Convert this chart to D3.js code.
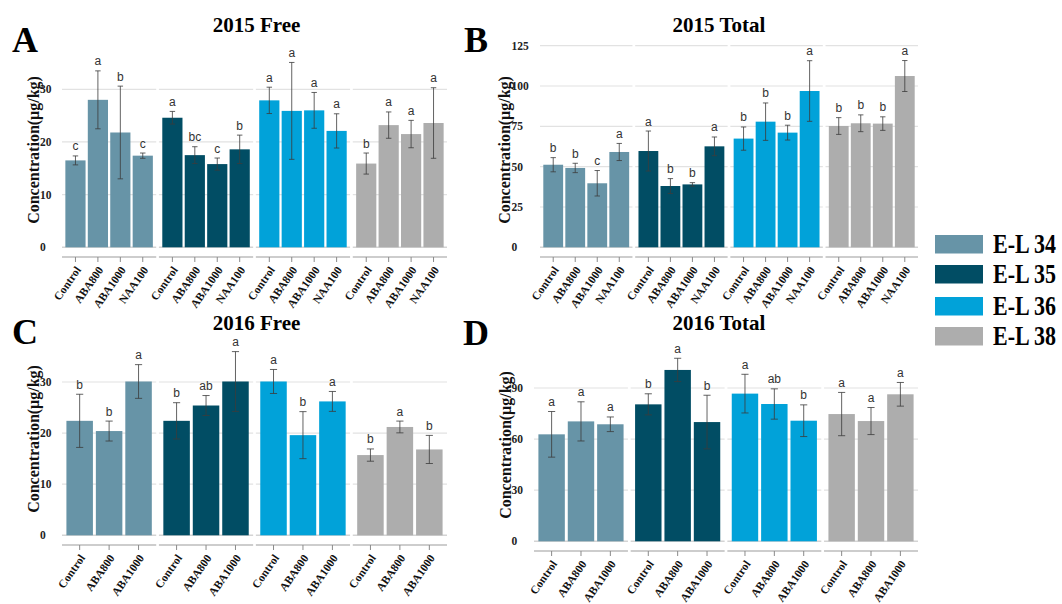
<!DOCTYPE html>
<html>
<head>
<meta charset="utf-8">
<script src="https://cdn.jsdelivr.net/npm/d3@7"></script>
<style>
  html, body { margin: 0; padding: 0; background: #ffffff; }
  svg { display: block; }
</style>
</head>
<body>
<svg id="chart" width="1062" height="604"></svg>
<script>
// Developmental stages (facets) and their fill colours
const stages = ["E-L 34", "E-L 35", "E-L 36", "E-L 38"];
const stageColors = ["#6794a7", "#014d64", "#01a2d9", "#adadad"];

// Treatments per season
const treatments2015 = ["Control", "ABA800", "ABA1000", "NAA100"];
const treatments2016 = ["Control", "ABA800", "ABA1000"];

// 2015 free concentration (µg/kg): mean, error, significance letter; rows = stages
const free2015Mean = [[16.5, 28.0, 21.8, 17.4], [24.6, 17.5, 15.8, 18.6], [27.9, 25.9, 26.0, 22.1], [15.9, 23.2, 21.5, 23.6]];
const free2015Err  = [[0.85, 5.5, 8.8, 0.5], [1.2, 1.6, 1.15, 2.7], [2.5, 9.2, 3.4, 3.25], [2.0, 2.5, 2.6, 6.7]];
const free2015Sig  = [["c", "a", "b", "c"], ["a", "bc", "c", "b"], ["a", "a", "a", "a"], ["b", "a", "a", "a"]];

// 2015 total concentration (µg/kg)
const total2015Mean = [[51.2, 49.2, 39.7, 59.1], [59.7, 38.0, 39.0, 62.6], [67.4, 77.9, 71.1, 96.9], [75.2, 76.9, 76.7, 106.2]];
const total2015Err  = [[4.4, 2.9, 7.9, 5.3], [12.4, 4.6, 1.1, 5.8], [7.2, 11.6, 4.6, 18.8], [5.2, 5.2, 4.2, 9.6]];
const total2015Sig  = [["b", "b", "c", "a"], ["a", "b", "b", "a"], ["b", "b", "b", "a"], ["b", "b", "b", "a"]];

// 2016 free concentration (µg/kg)
const free2016Mean = [[22.4, 20.4, 30.1], [22.4, 25.4, 30.1], [30.1, 19.6, 26.2], [15.7, 21.2, 16.8]];
const free2016Err  = [[5.2, 1.95, 3.3], [3.55, 1.95, 5.85], [2.35, 4.6, 1.95], [1.2, 1.15, 2.75]];
const free2016Sig  = [["b", "b", "a"], ["b", "ab", "a"], ["a", "b", "a"], ["b", "a", "b"]];

// 2016 total concentration (µg/kg)
const total2016Mean = [[62.8, 70.4, 68.7], [80.4, 100.6, 70.0], [86.7, 80.6, 70.8], [74.7, 70.6, 86.3]];
const total2016Err  = [[13.4, 11.5, 4.3], [6.2, 6.85, 15.75], [11.35, 8.9, 9.3], [12.7, 7.95, 6.95]];
const total2016Sig  = [["a", "a", "a"], ["b", "a", "b"], ["a", "ab", "b"], ["a", "a", "a"]];

// Axis tick values
const ticksFree2015 = [0, 10, 20, 30];
const ticksTotal2015 = [0, 25, 50, 75, 100, 125];
const ticksFree2016 = [0, 10, 20, 30];
const ticksTotal2016 = [0, 30, 60, 90];

const serif = "'Liberation Serif', 'Times New Roman', serif";
const sans = "'Liberation Sans', Arial, sans-serif";

const svg = d3.select("#chart");

const panels = [
  { tag: "A", title: "2015 Free", treatments: treatments2015, mean: free2015Mean, err: free2015Err, sig: free2015Sig,
    ticks: ticksFree2015, x0: 62, x1: 447, yTop: 30, yPix: [247.3, 89.3], axisY: 257,
    tagX: 12, tagY: 52, titleX: 256.5, titleY: 31.5, tickLabelX: 40, yLabelX: 39, yLabelY: 150 },
  { tag: "B", title: "2015 Total", treatments: treatments2015, mean: total2015Mean, err: total2015Err, sig: total2015Sig,
    ticks: ticksTotal2015, x0: 540, x1: 918, yTop: 125, yPix: [247.3, 45.7], axisY: 257,
    tagX: 464, tagY: 52, titleX: 719, titleY: 31.5, tickLabelX: 511.5, yLabelX: 510, yLabelY: 150 },
  { tag: "C", title: "2016 Free", treatments: treatments2016, mean: free2016Mean, err: free2016Err, sig: free2016Sig,
    ticks: ticksFree2016, x0: 62, x1: 447, yTop: 30, yPix: [535.3, 382], axisY: 545,
    tagX: 12, tagY: 344, titleX: 256.5, titleY: 330, tickLabelX: 40, yLabelX: 39, yLabelY: 439 },
  { tag: "D", title: "2016 Total", treatments: treatments2016, mean: total2016Mean, err: total2016Err, sig: total2016Sig,
    ticks: ticksTotal2016, x0: 534, x1: 918, yTop: 90, yPix: [541.3, 388], axisY: 551,
    tagX: 463, tagY: 345, titleX: 719, titleY: 330, tickLabelX: 511.5, yLabelX: 511, yLabelY: 445 }
];

const facetGap = 2.7;

panels.forEach(p => {
  const g = svg.append("g");
  const y = d3.scaleLinear().domain([0, p.yTop]).range(p.yPix);
  const span = p.x1 - p.x0;
  const facet = d3.scaleBand().domain(stages).range([p.x0, p.x1])
    .paddingInner(4 * facetGap / (span + facetGap)).paddingOuter(0);
  const inner = d3.scaleBand().domain(p.treatments).range([0, facet.bandwidth()])
    .paddingInner(0.1).paddingOuter(0.15);

  // Panel tag and title
  g.append("text").attr("x", p.tagX).attr("y", p.tagY)
    .attr("font-family", serif).attr("font-weight", "bold").attr("font-size", 36)
    .attr("fill", "#000").text(p.tag);
  g.append("text").attr("x", p.titleX).attr("y", p.titleY).attr("text-anchor", "middle")
    .attr("font-family", serif).attr("font-weight", "bold").attr("font-size", 21)
    .attr("fill", "#000").text(p.title);

  // Y tick labels
  g.selectAll(".ytick").data(p.ticks).join("text")
    .attr("x", p.tickLabelX).attr("y", d => y(d)).attr("dy", "0.35em")
    .attr("font-family", serif).attr("font-weight", "bold").attr("font-size", 11.5)
    .attr("fill", "#222").text(d => d);

  // Y axis title
  g.append("text")
    .attr("transform", `translate(${p.yLabelX},${p.yLabelY}) rotate(-90)`)
    .attr("text-anchor", "middle")
    .attr("font-family", serif).attr("font-weight", "bold").attr("font-size", 16)
    .attr("fill", "#111").text("Concentration(μg/kg)");

  stages.forEach((stage, si) => {
    const fx = facet(stage);
    const fw = facet.bandwidth();
    const fg = g.append("g");

    // Horizontal grid lines
    fg.selectAll(".grid").data(p.ticks.filter(t => t > 0)).join("line")
      .attr("x1", fx).attr("x2", fx + fw)
      .attr("y1", d => y(d)).attr("y2", d => y(d))
      .attr("stroke", "#e2e2e2").attr("stroke-width", 1.2);
    fg.append("line").attr("x1", fx).attr("x2", fx + fw)
      .attr("y1", y(0)).attr("y2", y(0))
      .attr("stroke", "#d4d4d4").attr("stroke-width", 1.4);

    const rows = p.treatments.map((t, i) => ({
      t, mean: p.mean[si][i], err: p.err[si][i], sig: p.sig[si][i]
    }));

    // Bars
    fg.selectAll(".bar").data(rows).join("rect")
      .attr("x", d => fx + inner(d.t))
      .attr("width", inner.bandwidth())
      .attr("y", d => y(d.mean))
      .attr("height", d => y(0) - y(d.mean))
      .attr("fill", stageColors[si]);

    // Error bars with significance letters
    const cap = inner.bandwidth() * 0.135;
    rows.forEach(d => {
      const cx = fx + inner(d.t) + inner.bandwidth() / 2;
      const yHi = y(d.mean + d.err), yLo = y(d.mean - d.err);
      const eg = fg.append("g").attr("stroke", "#3c3c3c").attr("stroke-opacity", 0.8).attr("stroke-width", 1);
      eg.append("line").attr("x1", cx).attr("x2", cx).attr("y1", yHi).attr("y2", yLo);
      eg.append("line").attr("x1", cx - cap).attr("x2", cx + cap).attr("y1", yHi).attr("y2", yHi);
      eg.append("line").attr("x1", cx - cap).attr("x2", cx + cap).attr("y1", yLo).attr("y2", yLo);
      fg.append("text").attr("x", cx).attr("y", yHi - 5.5).attr("text-anchor", "middle")
        .attr("font-family", sans).attr("font-size", 12).attr("fill", "#333").text(d.sig);
    });

    // Bottom axis line with ticks and rotated treatment labels
    fg.append("line").attr("x1", fx).attr("x2", fx + fw)
      .attr("y1", p.axisY).attr("y2", p.axisY)
      .attr("stroke", "#bdbdbd").attr("stroke-width", 1.4);
    rows.forEach(d => {
      const cx = fx + inner(d.t) + inner.bandwidth() / 2;
      fg.append("line").attr("x1", cx).attr("x2", cx)
        .attr("y1", p.axisY).attr("y2", p.axisY + 5)
        .attr("stroke", "#8a8a8a").attr("stroke-width", 1);
      fg.append("text")
        .attr("transform", `translate(${cx + 6},${p.axisY + 13}) rotate(-55)`)
        .attr("text-anchor", "end")
        .attr("font-family", serif).attr("font-weight", "bold").attr("font-size", 11.5)
        .attr("fill", "#111").text(d.t);
    });
  });
});

// Legend
const legend = svg.append("g");
const legendY = [235, 265, 297, 327];
stages.forEach((s, i) => {
  legend.append("rect").attr("x", 935).attr("y", legendY[i]).attr("width", 48).attr("height", 18.5)
    .attr("fill", stageColors[i]);
  legend.append("text")
    .attr("transform", `translate(993,${legendY[i] + 18}) scale(1,1.2)`)
    .attr("font-family", serif).attr("font-weight", "bold").attr("font-size", 22)
    .attr("fill", "#000").text(s);
});
</script>
</body>
</html>
